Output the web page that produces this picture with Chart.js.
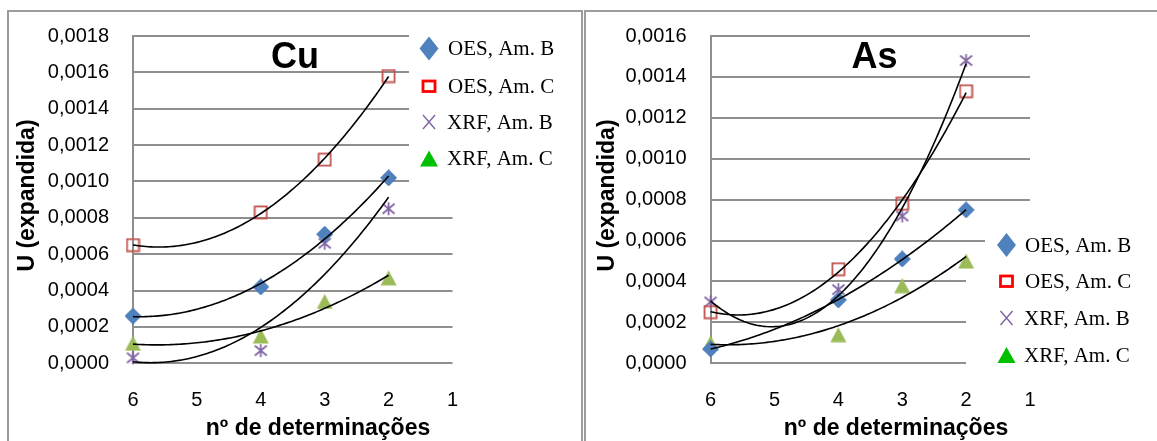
<!DOCTYPE html>
<html>
<head>
<meta charset="utf-8">
<script src="https://cdn.jsdelivr.net/npm/chart.js@4.4.0/dist/chart.umd.min.js"></script>
<style>
  html, body { margin: 0; padding: 0; background: #fff; width: 1157px; height: 441px; overflow: hidden; }
  .panel { position: absolute; border: 2px solid #9c9c9c; box-sizing: border-box; }
  #panelCu { left: 7px; top: 10px; width: 576px; height: 470px; }
  #panelAs { left: 584px; top: 10px; width: 600px; height: 470px; }
  canvas { position: absolute; top: 0; }
  #chartCu { left: 0; }
  #chartAs { left: 584px; }
</style>
</head>
<body>
<div class="panel" id="panelCu"></div>
<div class="panel" id="panelAs"></div>
<canvas id="chartCu" width="584" height="441"></canvas>
<canvas id="chartAs" width="573" height="441"></canvas>
<script>
// Number of determinations (x values) shared by every series
const determinations = [6, 4, 3, 2];
const xTicks = [1, 2, 3, 4, 5, 6];

// Series labels
const seriesLabels = ['OES, Am. B', 'OES, Am. C', 'XRF, Am. B', 'XRF, Am. C'];

// Expanded uncertainty U — copper
const cuOesB = [0.00026, 0.00042, 0.00071, 0.00102];
const cuOesC = [0.00065, 0.00083, 0.00112, 0.00158];
const cuXrfB = [0.00003, 0.00007, 0.00066, 0.00085];
const cuXrfC = [0.00011, 0.00015, 0.00034, 0.00047];

// Expanded uncertainty U — arsenic
const asOesB = [0.00007, 0.00031, 0.00051, 0.00075];
const asOesC = [0.00025, 0.00046, 0.00078, 0.00133];
const asXrfB = [0.00030, 0.00036, 0.00072, 0.00148];
const asXrfC = [0.00010, 0.00014, 0.00038, 0.00050];

// Y tick range per element
const cuYMax = 0.0018;
const asYMax = 0.0016;
const yStep = 0.0002;

const FONT_SANS = 'Liberation Sans, Arial, sans-serif';
const FONT_SERIF = 'Liberation Serif, Times New Roman, serif';
const GRID = '#8e8e8e';

// ---- marker images -------------------------------------------------------
function makeMarker(w, h, paint) {
  const c = document.createElement('canvas');
  c.width = w; c.height = h;
  paint(c.getContext('2d'), w, h);
  return c;
}
const markerDiamond = makeMarker(17, 17, (g) => {
  g.beginPath(); g.moveTo(8.5, 0.5); g.lineTo(16.5, 8.5); g.lineTo(8.5, 16.5); g.lineTo(0.5, 8.5); g.closePath();
  g.fillStyle = '#4F81BD'; g.fill(); g.strokeStyle = '#4677b8'; g.lineWidth = 1; g.stroke();
});
const markerSquare = makeMarker(15, 15, (g) => {
  g.strokeStyle = '#C0504D'; g.lineWidth = 1.8; g.strokeRect(1.5, 1.5, 12, 12);
});
const markerStar = makeMarker(15, 15, (g) => {
  g.strokeStyle = '#8064A2'; g.lineWidth = 1.7; g.beginPath();
  g.moveTo(1.5, 2.5); g.lineTo(13.5, 12.5); g.moveTo(13.5, 2.5); g.lineTo(1.5, 12.5);
  g.moveTo(7.5, 1); g.lineTo(7.5, 14); g.stroke();
});
const markerTriangle = makeMarker(17, 16, (g) => {
  g.beginPath(); g.moveTo(8.5, 0.5); g.lineTo(16.5, 15.5); g.lineTo(0.5, 15.5); g.closePath();
  g.fillStyle = '#9BBB59'; g.fill();
});
const seriesMarkers = [markerDiamond, markerSquare, markerStar, markerTriangle];

// ---- polynomial (order 2) least-squares trend line ------------------------
function quadFit(xs, ys) {
  const s = [0, 0, 0, 0, 0], t = [0, 0, 0];
  xs.forEach((x, i) => {
    for (let k = 0; k < 5; k++) s[k] += Math.pow(x, k);
    for (let k = 0; k < 3; k++) t[k] += ys[i] * Math.pow(x, k);
  });
  const A = [[s[0], s[1], s[2]], [s[1], s[2], s[3]], [s[2], s[3], s[4]]];
  const det = (m) => m[0][0] * (m[1][1] * m[2][2] - m[1][2] * m[2][1])
                   - m[0][1] * (m[1][0] * m[2][2] - m[1][2] * m[2][0])
                   + m[0][2] * (m[1][0] * m[2][1] - m[1][1] * m[2][0]);
  const D = det(A);
  const c = [0, 1, 2].map(j => det(A.map((row, i) => row.map((v, k) => (k === j ? t[i] : v)))) / D);
  return (x) => c[0] + c[1] * x + c[2] * x * x;
}
function trendPoints(xs, ys) {
  const f = quadFit(xs, ys);
  const lo = Math.min(...xs), hi = Math.max(...xs);
  const pts = [];
  for (let i = 0; i <= 100; i++) { const x = lo + (hi - lo) * i / 100; pts.push({ x, y: f(x) }); }
  return pts;
}

// ---- legend glyphs ---------------------------------------------------------
function drawLegendGlyph(g, kind, x, y) {
  g.save();
  if (kind === 0) {
    g.beginPath(); g.moveTo(x, y - 12); g.lineTo(x + 9.5, y); g.lineTo(x, y + 12); g.lineTo(x - 9.5, y); g.closePath();
    g.fillStyle = '#4F81BD'; g.fill();
  } else if (kind === 1) {
    g.strokeStyle = '#FF0000'; g.lineWidth = 2.8; g.strokeRect(x - 6, y - 5, 12, 10.5);
  } else if (kind === 2) {
    g.strokeStyle = '#8064A2'; g.lineWidth = 1.4; g.beginPath();
    g.moveTo(x - 6, y - 7); g.lineTo(x + 6, y + 7); g.moveTo(x + 6, y - 7); g.lineTo(x - 6, y + 7); g.stroke();
  } else {
    g.beginPath(); g.moveTo(x, y - 8); g.lineTo(x + 9, y + 8); g.lineTo(x - 9, y + 8); g.closePath();
    g.fillStyle = '#00C000'; g.fill();
  }
  g.restore();
}

// Titles, axis titles, legend and the white legend backdrop
const decor = {
  id: 'decor',
  beforeDatasetsDraw(chart, args, o) {
    const g = chart.ctx;
    g.save(); g.fillStyle = '#fff';
    o.masks.forEach(m => g.fillRect(m[0], m[1], m[2], m[3]));
    g.restore();
  },
  afterDraw(chart, args, o) {
    const g = chart.ctx;
    g.save();
    g.fillStyle = '#000';
    g.font = 'bold 36px ' + FONT_SANS;
    g.textAlign = 'center'; g.textBaseline = 'alphabetic';
    g.fillText(o.title, o.titleX, 68);

    g.font = 'bold 23px ' + FONT_SANS;
    g.fillText('nº de determinações', o.xTitleX, 435);
    g.save();
    g.translate(o.yTitleX, 195.5); g.rotate(-Math.PI / 2);
    g.textBaseline = 'middle';
    g.fillText('U (expandida)', 0, 0);
    g.restore();

    g.font = '21px ' + FONT_SERIF;
    g.textAlign = 'left'; g.textBaseline = 'middle';
    seriesLabels.forEach((lab, i) => {
      const y = o.legendY[i];
      drawLegendGlyph(g, i, o.legendMarkX, y);
      g.fillStyle = '#000';
      g.fillText(lab, o.legendTextX - (i >= 2 ? 1 : 0), y + 1);
    });
    g.restore();
  }
};

function buildChart(id, series, yMax, geo) {
  const datasets = [];
  series.forEach((ys, i) => {
    datasets.push({
      label: seriesLabels[i] + ' trend',
      data: trendPoints(determinations, ys),
      showLine: true, borderColor: '#000', borderWidth: 1.6,
      pointRadius: 0, tension: 0, order: 0, clip: false
    });
  });
  series.forEach((ys, i) => {
    datasets.push({
      label: seriesLabels[i],
      data: determinations.map((x, k) => ({ x, y: ys[k] })),
      showLine: false, pointStyle: seriesMarkers[i], pointRadius: 7,
      order: 1, clip: false
    });
  });
  return new Chart(document.getElementById(id), {
    type: 'scatter',
    data: { datasets },
    options: {
      responsive: false, animation: false, devicePixelRatio: 1,
      layout: { padding: { left: 0, top: 30, right: geo.padRight, bottom: 0 } },
      plugins: {
        legend: { display: false }, tooltip: { enabled: false },
        decor: geo.decor
      },
      scales: {
        x: {
          type: 'linear', min: xTicks[0], max: xTicks[xTicks.length - 1], reverse: true,
          afterBuildTicks: (s) => { s.ticks = xTicks.map(v => ({ value: v })); },
          ticks: { color: '#000', font: { family: FONT_SANS, size: 20 }, padding: 25, maxRotation: 0, autoSkip: false },
          grid: { display: false, drawTicks: false },
          border: { display: false },
          afterFit: (s) => { s.height = 441 - 363.3; }
        },
        y: {
          min: 0, max: yMax,
          ticks: {
            stepSize: yStep, color: '#000', font: { family: FONT_SANS, size: 20 }, padding: 24,
            callback: (v) => v.toFixed(4).replace('.', ',')
          },
          grid: { color: GRID, lineWidth: 2, drawTicks: false },
          border: { display: true, color: GRID, width: 2 },
          afterFit: (s) => { s.width = geo.left; }
        }
      }
    },
    plugins: [decor]
  });
}

buildChart('chartCu', [cuOesB, cuOesC, cuXrfB, cuXrfC], cuYMax, {
  left: 133, padRight: 584 - 452.5,
  decor: {
    title: 'Cu', titleX: 295, xTitleX: 318, yTitleX: 28,
    legendMarkX: 429, legendTextX: 448, legendY: [48.5, 86, 122, 158.5],
    masks: [[409, 14, 171, 182]]
  }
});

buildChart('chartAs', [asOesB, asOesC, asXrfB, asXrfC], asYMax, {
  left: 126.6, padRight: 573 - 446,
  decor: {
    title: 'As', titleX: 290.5, xTitleX: 312, yTitleX: 23.6,
    legendMarkX: 422.5, legendTextX: 441, legendY: [245, 281, 318, 355],
    masks: [[401, 218, 172, 154], [382, 255, 191, 117]]
  }
});
</script>
</body>
</html>
